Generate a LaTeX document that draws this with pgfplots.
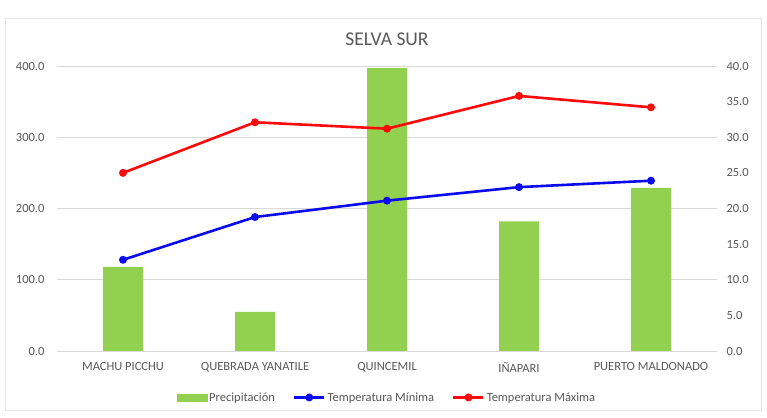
\documentclass[border=0pt]{standalone}
\usepackage{fontspec}
\setmainfont{Carlito}
\usepackage{pgfplots}
\pgfplotsset{compat=1.18}
\definecolor{txtgray}{HTML}{595959}
\definecolor{gridgray}{HTML}{D9D9D9}
\definecolor{barGreen}{HTML}{92D050}
\definecolor{lineBlue}{HTML}{0A0AF0}
\definecolor{lineRed}{HTML}{FF0A0A}

\pgfplotsset{
  lineleg/.style={legend image code/.code={
    \draw[mark repeat=2,mark phase=2,##1] plot coordinates {(0pt,0pt) (15pt,0pt) (30pt,0pt)};}},
}

\pgfplotstableread{
x prec tmin tmax
0 118 12.8 25.0
1 55  18.8 32.1
2 397 21.1 31.2
3 182 23.0 35.8
4 229 23.9 34.2
}\datatable

\begin{document}
\begin{tikzpicture}[x=1pt,y=1pt]
% chart area frame
\path (0,0) rectangle (767,417);
\draw[gridgray!70, fill=white] (5,7) rectangle (761,399);

\begin{axis}[
  at={(57pt,66pt)}, anchor=south west,
  scale only axis, width=660pt, height=285pt,
  xmin=-0.5, xmax=4.5, ymin=0, ymax=400,
  xtick=data,
  xticklabels={MACHU PICCHU, QUEBRADA YANATILE, QUINCEMIL, IÑAPARI, PUERTO MALDONADO},
  ytick={0,100,200,300,400},
  axis line style={draw=none},
  major tick length=0pt,
  ymajorgrids, grid style={gridgray, line width=0.8pt},
  tick label style={font=\fontsize{12.5}{14}\selectfont, text=txtgray},
  xticklabel style={yshift=-8pt},
  yticklabel style={xshift=-9pt},
  /pgf/number format/.cd, fixed, fixed zerofill, precision=1, assume math mode=true,
  /pgfplots/.cd,
  title={SELVA SUR},
  title style={at={(0.5,1)}, anchor=center, yshift=21pt, font=\fontsize{19.5}{22}\selectfont, text=txtgray},
]
\addplot[ybar, bar width=40pt, fill=barGreen, draw=none] table[x=x, y=prec] {\datatable};
\end{axis}

\begin{axis}[
  at={(57pt,66pt)}, anchor=south west,
  scale only axis, width=660pt, height=285pt,
  xmin=-0.5, xmax=4.5, ymin=0, ymax=40,
  axis x line=none,
  axis y line*=right,
  axis line style={draw=none},
  ytick={0,5,...,40},
  major tick length=0pt,
  tick label style={font=\fontsize{12.5}{14}\selectfont, text=txtgray},
  yticklabel style={xshift=6pt},
  /pgf/number format/.cd, fixed, fixed zerofill, precision=1, assume math mode=true,
  /pgfplots/.cd,
  legend columns=3,
  legend style={at={(0.5,-0.163)}, anchor=center, draw=none, fill=none,
    font=\fontsize{12.5}{14}\selectfont, text=txtgray,
    /tikz/every even column/.append style={column sep=16pt}},
  legend cell align=left,
]
\addlegendimage{legend image code/.code={\fill[barGreen] (0pt,-3.5pt) rectangle (30pt,3.5pt);}}
\addlegendentry{Precipitación}
\addplot[lineBlue, line width=2.6pt, mark=*, mark size=2.6pt, lineleg]
  table[x=x, y=tmin] {\datatable};
\addlegendentry{Temperatura Mínima}
\addplot[lineRed, line width=2.6pt, mark=*, mark size=2.6pt, lineleg]
  table[x=x, y=tmax] {\datatable};
\addlegendentry{Temperatura Máxima}
\end{axis}
\end{tikzpicture}
\end{document}
